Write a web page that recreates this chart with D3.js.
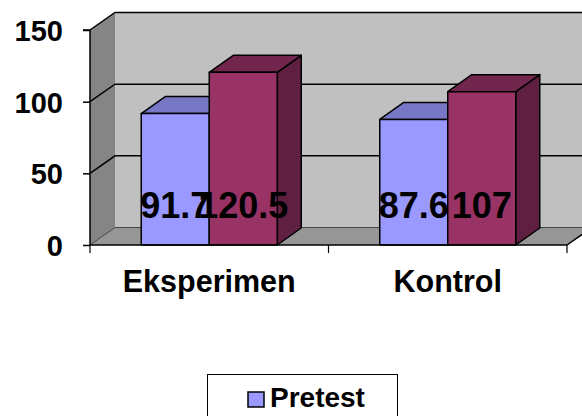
<!DOCTYPE html>
<html>
<head>
<meta charset="utf-8">
<script src="https://cdn.jsdelivr.net/npm/d3@7"></script>
<style>
html,body{margin:0;padding:0;background:#fff;overflow:hidden;}
svg{display:block;font-family:"Liberation Sans",Arial,sans-serif;font-weight:bold;}
</style>
</head>
<body>
<svg id="chart" width="582" height="416"></svg>
<script>
// ---- data ----
const categories = ["Eksperimen", "Kontrol"];
const seriesNames = ["Pretest", "Posttest"];
const pretest = [91.7, 87.6];
const posttest = [120.5, 107];
const yTicks = [0, 50, 100, 150];

const seriesValues = [pretest, posttest];
const frontColors = ["#9999FF", "#993366"];
const topColors = ["#7777C5", "#73264D"];
const sideColors = ["#5E5E9E", "#5F1F40"];

const W = 582, H = 416;
const svg = d3.select("#chart");

const plotLeft = 90, plotRight = 567, plotTop = 30, plotBottom = 245;
const dx = 25, dy = -17.5;       // wall depth offset
const bdx = 24, bdy = -17;       // bar depth offset

const y = d3.scaleLinear().domain([0, 150]).range([plotBottom, plotTop]);
const x0 = d3.scaleBand().domain(categories).range([plotLeft, plotRight]).padding(0);
const barW = 68;
const x1 = d3.scaleBand().domain(seriesNames)
  .range([x0.bandwidth() / 2 - barW, x0.bandwidth() / 2 + barW]).padding(0);

const poly = pts => "M" + pts.map(p => p.join(",")).join("L") + "Z";

// back wall
svg.append("path")
  .attr("d", poly([[plotLeft + dx, y(150) + dy], [W + 20, y(150) + dy], [W + 20, y(0) + dy], [plotLeft + dx, y(0) + dy]]))
  .attr("fill", "#C0C0C0");
// left side wall
svg.append("path")
  .attr("d", poly([[plotLeft, y(0)], [plotLeft, y(150)], [plotLeft + dx, y(150) + dy], [plotLeft + dx, y(0) + dy]]))
  .attr("fill", "#858585");
// floor
svg.append("path")
  .attr("d", poly([[plotLeft, y(0)], [plotRight, y(0)], [plotRight + dx, y(0) + dy], [plotLeft + dx, y(0) + dy]]))
  .attr("fill", "#969696");

// gridlines (back wall + side wall)
const grid = svg.append("g").attr("stroke", "#000").attr("stroke-width", 1.5).attr("fill", "none");
yTicks.forEach(t => {
  const yy = y(t);
  grid.append("path")
    .attr("d", `M${plotLeft},${yy}L${plotLeft + dx},${yy + dy}L${W + 20},${yy + dy}`)
    .attr("stroke-width", t === 0 ? 1 : 1.5)
    .attr("stroke", t === 0 ? "#444" : "#000");
});
// floor right edge
svg.append("path")
  .attr("d", `M${plotRight},${y(0)}L${plotRight + dx},${y(0) + dy}`)
  .attr("stroke", "#000").attr("stroke-width", 1.5);

// bars
const bars = svg.append("g");
categories.forEach((c, ci) => {
  seriesNames.forEach((s, si) => {
    const v = seriesValues[si][ci];
    const xl = x0(c) + x1(s), xr = xl + x1.bandwidth();
    const yt = y(v), yb = y(0);
    const g = bars.append("g").attr("stroke", "#000").attr("stroke-width", 1.5).attr("stroke-linejoin", "round");
    // side
    g.append("path").attr("d", poly([[xr, yb], [xr, yt], [xr + bdx, yt + bdy], [xr + bdx, yb + bdy]]))
      .attr("fill", sideColors[si]);
    // top
    g.append("path").attr("d", poly([[xl, yt], [xr, yt], [xr + bdx, yt + bdy], [xl + bdx, yt + bdy]]))
      .attr("fill", topColors[si]);
    // front
    g.append("rect").attr("x", xl).attr("y", yt).attr("width", xr - xl).attr("height", yb - yt)
      .attr("fill", frontColors[si]);
  });
});

// value labels
categories.forEach((c, ci) => {
  seriesNames.forEach((s, si) => {
    const v = seriesValues[si][ci];
    svg.append("text")
      .attr("x", x0(c) + x1(s) + x1.bandwidth() / 2)
      .attr("y", y(0) - 27)
      .attr("text-anchor", "middle")
      .attr("font-size", 36)
      .attr("fill", "#000")
      .text(String(v));
  });
});

// y axis
const yAxis = d3.axisLeft(y).tickValues(yTicks).tickSize(7).tickPadding(20).tickFormat(d3.format("d"));
const ya = svg.append("g").attr("transform", `translate(${plotLeft},0)`).call(yAxis);
ya.select(".domain").attr("stroke", "#000").attr("stroke-width", 1.5).attr("d", `M-7,${y(150)}H0V${y(0)}`);
ya.selectAll(".tick line").attr("stroke", "#000").attr("stroke-width", 1.5);
ya.selectAll(".tick text").attr("font-size", 29).attr("font-weight", "bold").attr("fill", "#000")
  .attr("font-family", "'Liberation Sans',Arial,sans-serif").attr("dy", "0.36em");

// x axis
svg.append("line").attr("x1", plotLeft).attr("x2", plotRight).attr("y1", y(0)).attr("y2", y(0))
  .attr("stroke", "#000").attr("stroke-width", 1.5);
const xTickPos = categories.map(c => x0(c)).concat([x0(categories[categories.length - 1]) + x0.bandwidth()]);
xTickPos.forEach(p => {
  svg.append("line").attr("x1", p).attr("x2", p).attr("y1", y(0)).attr("y2", y(0) + 8)
    .attr("stroke", "#000").attr("stroke-width", 1.2);
});
categories.forEach(c => {
  svg.append("text").attr("x", x0(c) + x0.bandwidth() / 2).attr("y", 292)
    .attr("text-anchor", "middle").attr("font-size", 30.5).attr("fill", "#000").text(c);
});

// legend
const lg = svg.append("g").attr("transform", "translate(207,374)");
lg.append("rect").attr("x", 0.5).attr("y", 0.5).attr("width", 190).attr("height", 80)
  .attr("fill", "#fff").attr("stroke", "#000").attr("stroke-width", 1);
seriesNames.slice(0, 1).forEach((s, i) => {
  const row = lg.append("g").attr("transform", `translate(0,${i * 36})`);
  row.append("rect").attr("x", 41).attr("y", 18).attr("width", 16).attr("height", 15)
    .attr("fill", frontColors[i]).attr("stroke", "#000").attr("stroke-width", 1.5);
  row.append("text").attr("x", 63).attr("y", 33).attr("font-size", 28).attr("fill", "#000").text(s);
});
</script>
</body>
</html>
